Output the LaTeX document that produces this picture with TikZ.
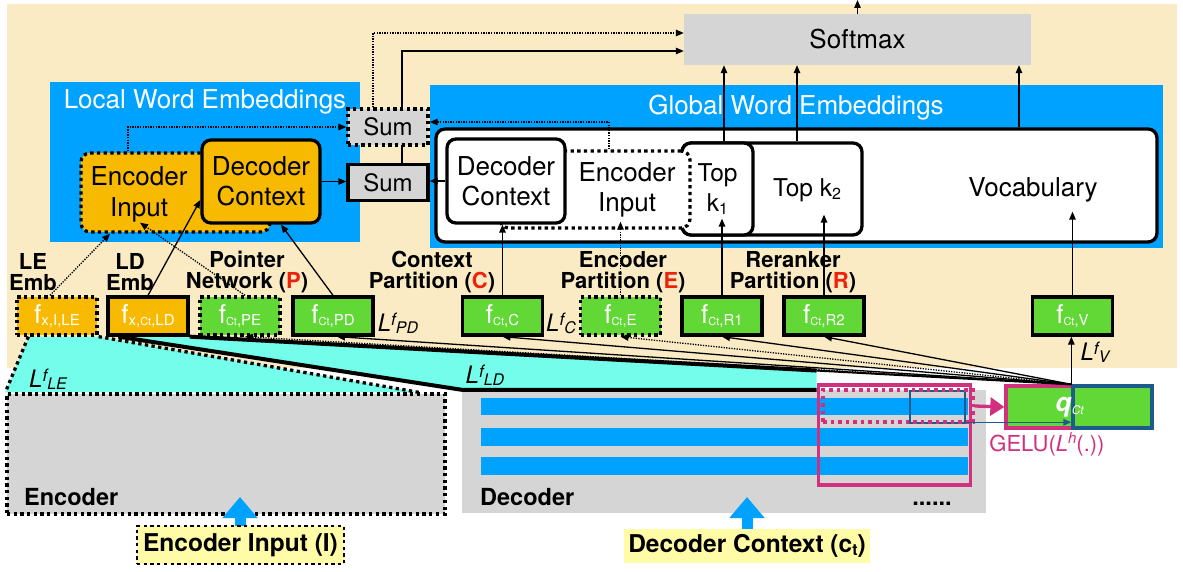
\documentclass[tikz,border=0pt]{standalone}
\usepackage{fontspec}
\setmainfont{TeX Gyre Heros}
\usepackage{amsmath}
\usetikzlibrary{calc,arrows.meta,positioning,backgrounds}

\definecolor{bgyel}{HTML}{FAEBC4}
\definecolor{kblue}{HTML}{00A2FF}
\definecolor{kgreen}{HTML}{61D836}
\definecolor{korange}{HTML}{F8BA00}
\definecolor{kgray}{HTML}{D5D5D5}
\definecolor{kcyan}{HTML}{73FDEA}
\definecolor{kpink}{HTML}{D1307E}
\definecolor{kdblue}{HTML}{1D5B8C}
\definecolor{kred}{HTML}{EE220C}
\definecolor{kpale}{HTML}{FFFBA6}

\newcommand{\fz}[1]{\fontsize{#1bp}{#1bp}\selectfont}
\newcommand{\sct}{{\fz{11}Ct}}
\newcommand{\fsub}[1]{f\raisebox{-2bp}{\fz{15}#1}}
\newcommand{\lowsub}[1]{\raisebox{-3bp}{\fz{16}#1}}
\newcommand{\Lf}[1]{\textit{L\raisebox{6bp}{\fz{17}f}\raisebox{-2bp}{\fz{16}#1}}}

\begin{document}
\begin{tikzpicture}[x=1bp,y=-1bp,>={Triangle[length=8bp,width=6.5bp]},inner sep=0pt,
    every node/.style={font=\fz{26}}]
  % Styles
  \tikzset{panel/.style={fill=kblue},
           ptitle/.style={text=white,font=\fz{26}},
           inbox/.style={draw,line width=3.3bp,rounded corners=9bp,fill=white,align=center,font=\fontsize{26bp}{30bp}\selectfont},
           dotbd/.style={dash pattern=on 3.3bp off 3.4bp},
           sumbox/.style={draw,fill=kgray,line width=3.3bp,minimum width=80bp,minimum height=36bp,font=\fz{24}},
           fbox/.style={draw,line width=3.3bp,minimum width=80bp,minimum height=38bp,text=white},
           grn/.style={fill=kgreen},
           org/.style={fill=korange},
           head/.style={align=center,font=\bfseries\fontsize{22bp}{21bp}\selectfont},
           conn/.style={->,line width=1.3bp},
           dconn/.style={->,line width=1.3bp,dash pattern=on 1.3bp off 1.3bp},
           lossl/.style={font=\fz{24}},
           boldl/.style={font=\bfseries\fz{23.5}},
           bigup/.style={-{Triangle[length=21bp,width=34bp]},line width=11bp,draw=kblue},
           rim/.style={line width=4bp}}

  \useasboundingbox (0,0) rectangle (1183,572);
  \begin{scope}[on background layer]
    \fill[bgyel] (7,4) rectangle (1177,368);
  \end{scope}

  % Softmax on top
  \node[fill=kgray,minimum width=347bp,minimum height=51bp] (soft) at (857.5,39.5) {Softmax};
  \coordinate (out) at (857.5,0);
  \draw[conn] (soft) -- (out);

  % Local word embeddings
  \node[panel,minimum width=310bp,minimum height=160bp] (lwe) at (205,162) {};
  \node[ptitle] (lwet) at (205,102) {Local Word Embeddings};
  \node[inbox,dotbd,fill=korange,minimum width=189bp,minimum height=79bp] (lenc) at (175.5,192.5) {};
  \node[align=center,font=\fontsize{26bp}{31bp}\selectfont] (lenct) at (139,194) {Encoder\\Input};
  \node[inbox,fill=korange,minimum width=118bp,minimum height=83bp] (ldec) at (261,181.5) {Decoder\\Context};

  % Global word embeddings
  \node[panel,minimum width=733bp,minimum height=163bp] (gwe) at (796.5,166.5) {};
  \node[ptitle] (gwet) at (796,108) {Global Word Embeddings};
  \node[inbox,minimum width=721bp,minimum height=113bp] (vocab) at (796.5,185.5) {};
  \node (vocabt) at (1033,190) {Vocabulary};
  \node[inbox,minimum width=180bp,minimum height=92bp] (topkb) at (772,189) {};
  \node[font=\fz{24.5}] (topkbt) at (807,190) {Top k\lowsub{2}};
  \node[inbox,minimum width=71bp,minimum height=92bp,font=\fontsize{24.5bp}{30bp}\selectfont] (topka) at (717.5,189) {Top\\k\lowsub{1}};
  \node[inbox,dotbd,minimum width=190bp,minimum height=77bp] (genc) at (595,189.5) {};
  \node[align=center,font=\fontsize{26bp}{30bp}\selectfont] (genct) at (627,190) {Encoder\\Input};
  \node[inbox,minimum width=118bp,minimum height=84bp] (gdec) at (506,181) {Decoder\\Context};

  % Sums
  \node[sumbox] (sumb) at (388,182.5) {Sum};
  \coordinate (sa) at ([xshift=14bp]sumb.north);
  \draw[conn] (sa) |- ([yshift=-11.5bp]soft.west);
  \node[sumbox,dotbd] (suma) at (388,127) {Sum};
  \draw[dconn] ([xshift=-15bp]suma.north) |- ([yshift=6.5bp]soft.west);
  \draw[conn] (ldec.east) -- (ldec.east -| sumb.west);
  \draw[conn] (gdec.west) -- (gdec.west -| sumb.east);
  \draw[dconn] ([xshift=-47.5bp]lenc.north) |- (suma.west);
  \coordinate (ge) at ([xshift=14bp]genc.north);
  \draw[dconn] (ge) |- ([yshift=5bp]suma.east);

  % Into softmax
  \coordinate (ka) at ([xshift=6.5bp]topka.north);
  \coordinate (kb) at ([xshift=25bp]topkb.north);
  \coordinate (kv) at ([xshift=222.5bp]vocab.north);
  \draw[conn] (ka) -- (ka |- soft.south);
  \draw[conn] (kb) -- (kb |- soft.south);
  \draw[conn] (kv) -- (kv |- soft.south);

  % Embedding functions
  \node[fbox,org,dotbd] (fle) at (57,316) {\fsub{x,I,LE}};
  \node[fbox,org] (fld) at (148,316) {\fsub{x,\sct,LD}};
  \node[fbox,grn,dotbd] (fpe) at (240,316) {\fsub{\sct,PE}};
  \node[fbox,grn] (fpd) at (333,316) {\fsub{\sct,PD}};
  \node[fbox,grn] (fc) at (502.5,316) {\fsub{\sct,C}};
  \node[fbox,grn,dotbd] (fe) at (620.5,316) {\fsub{\sct,E}};
  \node[fbox,grn] (fr1) at (722,316) {\fsub{\sct,R1}};
  \node[fbox,grn] (fr2) at (824,316) {\fsub{\sct,R2}};
  \node[fbox,grn] (fv) at (1072.5,316) {\fsub{\sct,V}};

  \node[head] (hle) at (33,272) {LE\\Emb};
  \node[head] (hld) at (130,272) {LD\\Emb};
  \node[head] (hp) at (247,272) {Pointer\\Network (\textcolor{kred}{P})};
  \node[head] (hc) at (432,272) {Context\\Partition (\textcolor{kred}{C})};
  \node[head] (he) at (623,272) {Encoder\\Partition (\textcolor{kred}{E})};
  \node[head] (hr) at (793,272) {Reranker\\Partition (\textcolor{kred}{R})};

  % Functions into the embedding tables
  \draw[dconn] ([xshift=-7bp]fle.north) -- ([xshift=-65.5bp]lenc.south);
  \draw[conn] (fld.north) -- ([yshift=-18.5bp]ldec.west);
  \draw[dconn] ([xshift=5bp]fpe.north) -- ([xshift=-35.5bp,yshift=11bp]lenc.south);
  \draw[conn] (fpd.north) -- ([xshift=20bp]ldec.south);
  \coordinate (tc) at (fc.north |- gdec.south);
  \coordinate (te) at ($(fe.north |- genc.south)+(0,-8)$);
  \coordinate (tr1) at ($(fr1.north |- topka.south)+(0,-18)$);
  \coordinate (tr2) at ($(fr2.north |- topkb.south)+(0,-22)$);
  \coordinate (tv) at ($(fv.north |- vocab.south)+(0,-32)$);
  \draw[conn] (fc) -- (tc);
  \draw[dconn] (fe) -- (te);
  \draw[conn] (fr1) -- (tr1);
  \draw[conn] (fr2) -- (tr2);
  \draw[conn] (fv) -- (tv);

  % Encoder
  \node[fill=kgray,draw,line width=3.3bp,dotbd,minimum width=438bp,minimum height=120bp] (enc) at (226,454) {};
  \node[boldl,anchor=base west] (enct) at (24,505) {Encoder};
  \coordinate (enctip) at (240,497);
  \draw[bigup] (240,530) -- (enctip);
  \node[draw,dotbd,line width=2.5bp,fill=kpale,minimum width=207bp,minimum height=38bp,font=\bfseries\fz{24.5}] (encin) at (240.5,545) {Encoder Input (I)};

  % Decoder
  \node[fill=kgray,minimum width=524bp,minimum height=123bp] (dec) at (724,451.5) {};
  \node[fill=kblue,minimum width=487bp,minimum height=17bp] (bar1) at (724.5,406) {};
  \node[fill=kblue,minimum width=487bp,minimum height=18bp] (bar2) at (724.5,437) {};
  \node[fill=kblue,minimum width=487bp,minimum height=18bp] (bar3) at (724.5,466) {};
  \node[boldl,anchor=base west] (dect) at (480,505) {Decoder};
  \node[boldl,anchor=base] (ddots) at (932,505) {......};
  \coordinate (dectip) at (747,497);
  \draw[bigup] (747,532) -- (dectip);
  \node[fill=kpale,minimum width=246bp,minimum height=34bp,font=\bfseries\fz{24.5}] (decin) at (747,546) {Decoder Context (c\lowsub{t})};

  % Hidden state selection
  \node[draw=kpink,line width=3.3bp,minimum width=152bp,minimum height=100bp] (pk) at (894.5,435) {};
  \node[draw=kdblue,line width=2.5bp,minimum width=55bp,minimum height=32bp] (dkb) at (937.5,407) {};
  \node[draw=kpink,line width=3.3bp,dash pattern=on 3.5bp off 4bp,minimum width=150bp,minimum height=32bp] (pkd) at (898,406) {};

  % Query
  \node[fill=kgreen,draw=kpink,line width=3.3bp,minimum width=67bp,minimum height=42bp] (qa) at (1039.5,407) {};
  \node[fill=kgreen,draw=kdblue,line width=3.3bp,minimum width=79bp,minimum height=42bp] (qb) at (1112.5,407) {};
  \node[text=white] (qt) at (1070,407) {\textbf{\textit{q}}\raisebox{-3bp}{\fz{12}\textit{Ct}}};
  \coordinate (qj) at (qb.north west);
  \node[text=kpink,font=\fz{22}] (gelu) at (1047,444) {GELU(\textit{L}\raisebox{8bp}{\fz{15}\textit{h}}(.))};
  \draw[-{Triangle[length=14bp,width=18bp]},line width=3.3bp,kpink] (pkd.east) -- (qa.west);
  \draw[->,line width=1.3bp,kdblue] ($(dkb.south east)+(0,-2)$) -- ($(dkb.south east -| qb.west)+(0,-2)$);

  % Losses
  \coordinate (ldend) at ($(fld.south east)!0.711!(qj)$);
  \begin{scope}[on background layer]
    \fill[kcyan] ($(fle.south west)+(13,0)$) -- (fle.south east) -- ($(enc.north east)+(-28,0)$) -- (enc.north west) -- cycle;
    \fill[kcyan] ($(fld.south west)+(12,0)$) -- (fld.south east) -- (ldend) -- (ldend |- dec.north) -- (dec.north west) -- cycle;
  \end{scope}
  \draw[line width=3.3bp,dotbd] ($(fle.south west)+(13,0)$) -- (enc.north west);
  \draw[line width=3.3bp,dotbd] (fle.south east) -- ($(enc.north east)+(-28,0)$);
  \draw[rim] ($(fld.south west)+(12,0)$) -- (dec.north west) -- (ldend |- dec.north);
  \draw[rim] (fld.south east) -- (ldend);
  \draw[line width=2bp] (ldend) -- (qj);

  \draw[dconn] (qj) -- ([xshift=5bp]fpe.south);
  \draw[conn] (qj) -- ([xshift=4bp]fpd.south);
  \draw[conn] (qj) -- (fc.south);
  \draw[dconn] (qj) -- (fe.south);
  \draw[conn] (qj) -- (fr1.south);
  \draw[conn] (qj) -- (fr2.south);
  \draw[conn] (qj) -- (qj |- fv.south);

  \node[lossl] (lle) at (48,379) {\Lf{LE}};
  \node[lossl] (lld) at (485,375) {\Lf{LD}};
  \node[lossl] (lpd) at (398,323) {\Lf{PD}};
  \node[lossl] (lc) at (561,323) {\Lf{C}};
  \node[lossl] (lv) at (1095,352) {\Lf{V}};
\end{tikzpicture}
\end{document}
